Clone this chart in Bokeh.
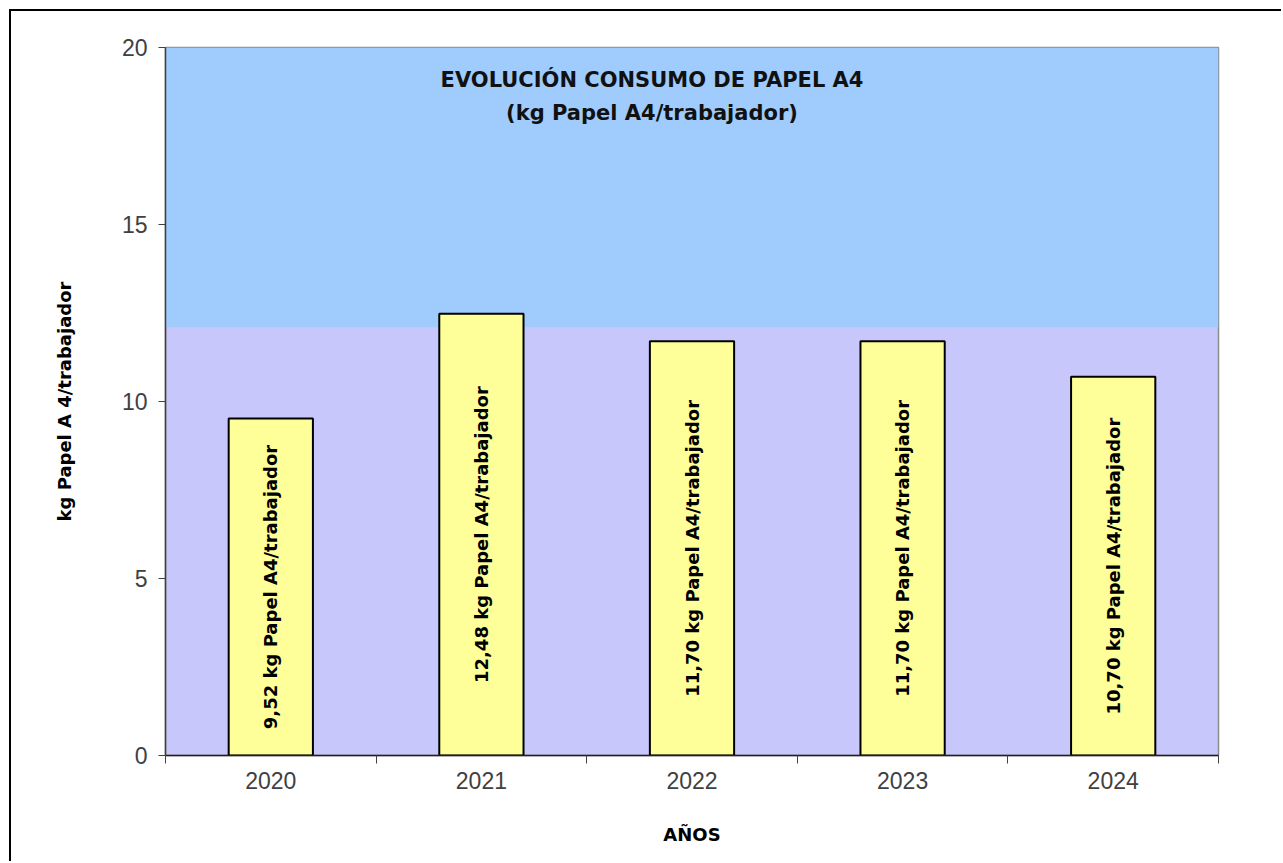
import math
from bokeh.plotting import figure
from bokeh.models import (ColumnDataSource, Range1d, LinearAxis,
                          FixedTicker, BoxAnnotation)
from bokeh.core.properties import value
from bokeh.embed import file_html
from bokeh.resources import INLINE

# ---- data ----
years = ["2020", "2021", "2022", "2023", "2024"]
kg_per_worker = [9.52, 12.48, 11.70, 11.70, 10.70]
unit_text = "kg Papel A4/trabajador"
title_lines = ["EVOLUCIÓN CONSUMO DE PAPEL A4", "(kg Papel A4/trabajador)"]
y_ticks = [0, 5, 10, 15, 20]
y_axis_title = "kg Papel A 4/trabajador"
x_axis_title = "AÑOS"

n = len(years)
xpos = [i + 0.5 for i in range(n)]
bar_labels = [f"{v:.2f}".replace(".", ",") + " " + unit_text for v in kg_per_worker]

src = ColumnDataSource(dict(x=xpos, val=kg_per_worker,
                            mid=[v / 2 for v in kg_per_worker], lab=bar_labels))

p = figure(x_range=Range1d(0, n), y_range=Range1d(0, 20), width=1272, height=852,
           output_backend="svg", toolbar_location=None, x_axis_location=None,
           min_border_left=154, min_border_top=36, min_border_right=65,
           min_border_bottom=108)

p.background_fill_color = "#C7C7FC"
p.border_fill_color = "white"
p.outline_line_color = "#8a8a8a"
p.outline_line_width = 1.5
p.grid.visible = False
p.styles = {"border-left": "2px solid black", "border-top": "2px solid black",
            "margin-left": "9px", "margin-top": "9px"}

# upper blue band of the plot area
p.add_layout(BoxAnnotation(bottom=12.1, top=20, fill_color="#9FCBFD",
                           fill_alpha=1.0, line_color=None, level="underlay"))

# y axis
ya = p.yaxis[0]
ya.ticker = FixedTicker(ticks=y_ticks)
ya.minor_tick_line_color = None
ya.major_tick_in = 0
ya.major_tick_out = 7
ya.major_tick_line_color = "#404040"
ya.axis_line_color = "#404040"
ya.axis_line_width = 1.5
ya.major_label_standoff = 11
ya.major_label_text_font = "Liberation Sans"
ya.major_label_text_font_size = "23px"
ya.major_label_text_color = "#404040"
ya.axis_label = y_axis_title
ya.axis_label_text_font = "DejaVu Sans"
ya.axis_label_text_font_style = "bold"
ya.axis_label_text_font_size = "18px"
ya.axis_label_text_color = "black"
ya.axis_label_standoff = 44

# bottom: tick marks at category boundaries (no labels)
bounds = list(range(n + 1))
tick_axis = LinearAxis(ticker=FixedTicker(ticks=bounds),
                       major_label_overrides={b: "" for b in bounds},
                       major_label_text_font_size="1px",
                       major_label_standoff=0,
                       minor_tick_line_color=None,
                       major_tick_in=0, major_tick_out=8,
                       major_tick_line_color="#404040",
                       axis_line_color="#202020", axis_line_width=1.5)
p.add_layout(tick_axis, "below")

# year labels at bar centres
cat_axis = LinearAxis(ticker=FixedTicker(ticks=xpos),
                      major_label_overrides={x: y for x, y in zip(xpos, years)},
                      major_tick_line_color=None, minor_tick_line_color=None,
                      axis_line_color=None,
                      major_label_standoff=2,
                      major_label_text_font="Liberation Sans",
                      major_label_text_font_size="23px",
                      major_label_text_color="#404040",
                      axis_label=x_axis_title,
                      axis_label_text_font="DejaVu Sans",
                      axis_label_text_font_style="bold",
                      axis_label_text_font_size="18px",
                      axis_label_text_color="black",
                      axis_label_standoff=32)
p.add_layout(cat_axis, "below")

# bars
p.vbar(x="x", top="val", width=0.4, source=src, fill_color="#FFFF99",
       line_color="black", line_width=2)

# rotated value labels inside bars
p.text(x="x", y="mid", text="lab", source=src, angle=math.pi / 2,
       text_align="center", text_baseline="middle",
       text_font=value("DejaVu Sans"), text_font_style="bold",
       text_font_size="18px", text_color="black")

# chart title inside the plot area
tsrc = ColumnDataSource(dict(x=[n / 2, n / 2], y=[19.07, 18.14], t=title_lines))
p.text(x="x", y="y", text="t", source=tsrc, x_offset=-40,
       text_align="center", text_baseline="middle",
       text_font=value("DejaVu Sans"), text_font_style="bold",
       text_font_size="21px", text_color="#111111")

open("out.html", "w").write(file_html(p, INLINE))
